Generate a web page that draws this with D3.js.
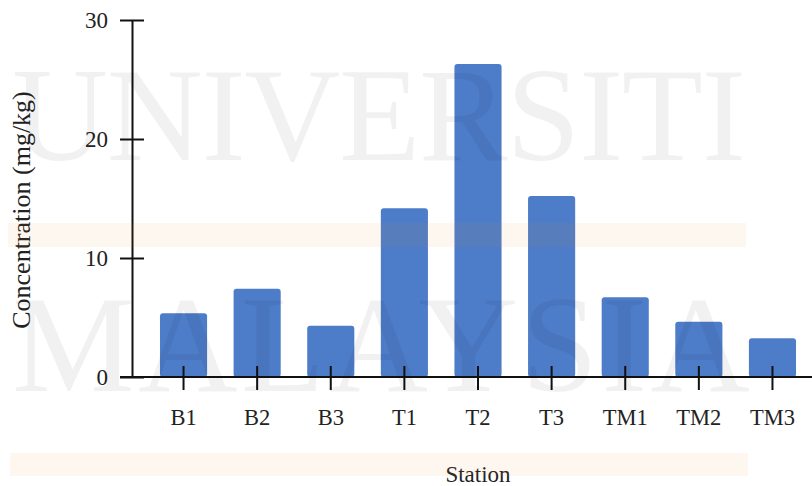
<!DOCTYPE html>
<html>
<head>
<meta charset="utf-8">
<script src="https://cdn.jsdelivr.net/npm/d3@7"></script>
<style>
  html, body { margin: 0; padding: 0; background: #fff; }
  svg { display: block; }
</style>
</head>
<body>
<svg id="chart" width="812" height="486"></svg>
<script>
// Station concentrations (mg/kg)
const stations = ["B1", "B2", "B3", "T1", "T2", "T3", "TM1", "TM2", "TM3"];
const concentration = [5.35, 7.42, 4.31, 14.18, 26.3, 15.21, 6.7, 4.65, 3.25];
const yTicks = [0, 10, 20, 30];
const xTitle = "Station";
const yTitle = "Concentration (mg/kg)";
const watermarkLines = ["UNIVERSITI", "MALAYSIA"];

const svg = d3.select("#chart");
const font = "'Liberation Serif', 'Times New Roman', serif";

const x = d3.scaleBand()
  .domain(stations)
  .range([132, 824])
  .paddingInner(0.36)
  .paddingOuter(0.38);

const y = d3.scaleLinear()
  .domain([0, 30])
  .range([377, 20]);

// Bars
svg.append("g")
  .selectAll("rect")
  .data(stations.map((s, i) => ({ s, v: concentration[i] })))
  .join("rect")
  .attr("x", d => x(d.s))
  .attr("y", d => y(d.v))
  .attr("width", x.bandwidth())
  .attr("height", d => y(0) - y(d.v))
  .attr("rx", 3)
  .attr("fill", "#4d7cc8");

// Axes with ticks that cross the axis line
const yAxis = d3.axisLeft(y).tickValues(yTicks).tickSize(12).tickPadding(12).tickSizeOuter(0);
const gy = svg.append("g").attr("transform", "translate(132,0)").call(yAxis);
gy.select(".domain").attr("stroke", "#111").attr("stroke-width", 2);
gy.selectAll(".tick line").attr("x1", -12).attr("x2", 12).attr("stroke", "#111").attr("stroke-width", 2);
gy.selectAll(".tick text").attr("font-family", font).attr("font-size", 23).attr("fill", "#222").attr("dy", "0.34em");

const xAxis = d3.axisBottom(x).tickSize(12).tickPadding(20).tickSizeOuter(0);
const gx = svg.append("g").attr("transform", "translate(0,377)").call(xAxis);
gx.select(".domain").attr("d", "M120,0H812").attr("stroke", "#111").attr("stroke-width", 2);
gx.selectAll(".tick line").attr("y1", -11).attr("y2", 13).attr("stroke", "#111").attr("stroke-width", 2);
gx.selectAll(".tick text").attr("font-family", font).attr("font-size", 22.5).attr("fill", "#222");

// Axis titles
svg.append("text")
  .attr("x", 478).attr("y", 482)
  .attr("text-anchor", "middle")
  .attr("font-family", font).attr("font-size", 23).attr("fill", "#222")
  .text(xTitle);

svg.append("text")
  .attr("transform", "translate(30,210) rotate(-90)")
  .attr("text-anchor", "middle")
  .attr("font-family", font).attr("font-size", 26).attr("fill", "#222")
  .text(yTitle);

// Light peach bands laid over the plot
const bands = svg.append("g").attr("fill", "rgb(240,140,40)").attr("fill-opacity", 0.07);
bands.append("rect").attr("x", 8).attr("y", 223).attr("width", 738).attr("height", 24);
bands.append("rect").attr("x", 10).attr("y", 453).attr("width", 738).attr("height", 23);

// Watermark lettering
const wm = svg.append("g")
  .attr("font-family", font)
  .attr("fill", "#000")
  .attr("fill-opacity", 0.055)
  .attr("pointer-events", "none");
wm.append("text")
  .attr("x", 12).attr("y", 160)
  .attr("font-size", 133)
  .attr("textLength", 734).attr("lengthAdjust", "spacing")
  .text(watermarkLines[0]);
wm.append("text")
  .attr("x", 12).attr("y", 391)
  .attr("font-size", 138)
  .attr("textLength", 738).attr("lengthAdjust", "spacing")
  .text(watermarkLines[1]);
</script>
</body>
</html>
